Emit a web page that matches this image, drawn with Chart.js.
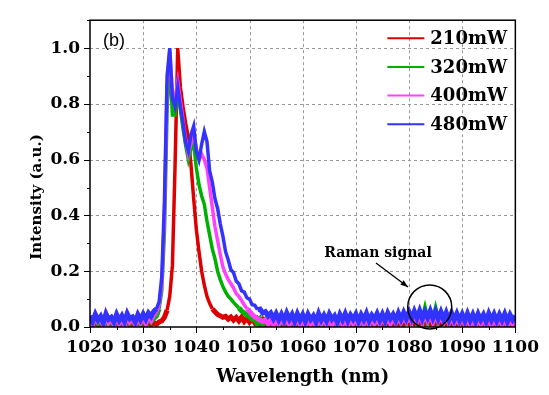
<!DOCTYPE html>
<html>
<head>
<meta charset="utf-8">
<script src="https://cdn.jsdelivr.net/npm/chart.js@4.4.0/dist/chart.umd.min.js"></script>
<style>
  html, body { margin: 0; padding: 0; background: #fff; }
</style>
</head>
<body>
<canvas id="spectrum" width="549" height="395"></canvas>
<script>
const seriesLabels = ["210mW", "320mW", "400mW", "480mW"];
const seriesColors = ["#dd0000", "#00b000", "#ff40ff", "#3333ff"];
const xTicks = [1020, 1030, 1040, 1050, 1060, 1070, 1080, 1090, 1100];
const yTicks = [0, 0.2, 0.4, 0.6, 0.8, 1.0];

// sampling grid of the spectra, 0.5 nm
const wavelength = [];
for (let i = 0; i <= 160; i++) wavelength.push(1020 + i * 0.5);

// intensities, one value per 0.5 nm, rows of 10 nm
const p210 = [
  0.015,0.005,0.018,0.008,0.014,0.004,0.02,0.008,0.016,0.005,0.018,0.006,0.015,0.004,0.02,0.008,0.014,0.005,0.018,0.007,
  0.015,0.006,0.018,0.008,0.016,0.01,0.018,0.022,0.035,0.06,0.11,0.22,0.58,1.0,0.86,0.79,0.73,0.68,0.58,0.46,
  0.35,0.27,0.2,0.15,0.11,0.085,0.065,0.055,0.045,0.04,0.035,0.038,0.028,0.036,0.025,0.034,0.022,0.035,0.02,0.032,
  0.018,0.03,0.015,0.028,0.012,0.025,0.01,0.022,0.008,0.02,0.006,0.018,0.008,0.016,0.005,0.018,0.006,0.016,0.004,0.015,
  0.006,0.016,0.004,0.015,0.007,0.017,0.005,0.014,0.006,0.016,0.004,0.015,0.007,0.016,0.005,0.014,0.006,0.017,0.005,0.015,
  0.006,0.016,0.005,0.017,0.007,0.015,0.006,0.018,0.008,0.017,0.007,0.018,0.009,0.02,0.008,0.019,0.01,0.021,0.01,0.022,
  0.012,0.024,0.013,0.026,0.012,0.028,0.014,0.026,0.012,0.027,0.013,0.024,0.011,0.022,0.01,0.02,0.008,0.018,0.007,0.017,
  0.006,0.016,0.005,0.015,0.006,0.017,0.004,0.015,0.006,0.016,0.005,0.014,0.006,0.016,0.004,0.015,0.006,0.017,0.005,0.015,
  0.008
];
const p320 = [
  0.025,0.01,0.035,0.015,0.03,0.008,0.038,0.012,0.028,0.01,0.036,0.015,0.03,0.006,0.04,0.016,0.028,0.01,0.034,0.012,
  0.03,0.012,0.032,0.02,0.03,0.04,0.065,0.13,0.34,0.78,0.96,0.76,0.76,0.85,0.78,0.71,0.65,0.6,0.64,0.66,
  0.57,0.51,0.47,0.44,0.38,0.33,0.28,0.245,0.2,0.17,0.145,0.126,0.11,0.1,0.088,0.078,0.068,0.058,0.05,0.042,
  0.036,0.028,0.025,0.012,0.028,0.008,0.025,0.012,0.03,0.01,0.027,0.008,0.03,0.012,0.024,0.01,0.028,0.012,0.03,0.01,
  0.028,0.01,0.025,0.012,0.03,0.008,0.026,0.01,0.03,0.014,0.025,0.01,0.028,0.006,0.03,0.012,0.026,0.01,0.03,0.012,
  0.026,0.012,0.03,0.01,0.028,0.014,0.03,0.012,0.033,0.015,0.03,0.014,0.035,0.016,0.034,0.018,0.036,0.018,0.038,0.02,
  0.04,0.022,0.045,0.02,0.042,0.024,0.062,0.022,0.044,0.02,0.06,0.022,0.04,0.018,0.038,0.016,0.035,0.015,0.034,0.014,
  0.03,0.012,0.032,0.01,0.03,0.008,0.03,0.012,0.028,0.01,0.032,0.008,0.03,0.01,0.028,0.012,0.03,0.008,0.029,0.012,
  0.025
];
const p400 = [
  0.03,0.012,0.042,0.02,0.028,0.008,0.045,0.018,0.03,0.01,0.04,0.015,0.035,0.008,0.044,0.02,0.03,0.01,0.04,0.018,
  0.035,0.015,0.04,0.025,0.045,0.05,0.08,0.15,0.4,0.86,0.99,0.84,0.82,0.88,0.81,0.74,0.67,0.62,0.66,0.69,
  0.64,0.6,0.62,0.6,0.57,0.5,0.43,0.36,0.31,0.26,0.215,0.19,0.17,0.155,0.14,0.12,0.11,0.095,0.08,0.065,
  0.056,0.045,0.036,0.03,0.024,0.02,0.025,0.012,0.028,0.01,0.026,0.012,0.03,0.015,0.025,0.01,0.028,0.012,0.03,0.01,
  0.026,0.008,0.03,0.012,0.025,0.006,0.028,0.014,0.03,0.01,0.026,0.008,0.028,0.012,0.03,0.01,0.025,0.008,0.03,0.014,
  0.028,0.01,0.03,0.012,0.026,0.01,0.032,0.014,0.028,0.012,0.03,0.015,0.034,0.014,0.032,0.016,0.036,0.018,0.035,0.02,
  0.04,0.02,0.042,0.022,0.044,0.02,0.045,0.024,0.044,0.02,0.042,0.022,0.04,0.018,0.038,0.016,0.036,0.015,0.034,0.014,
  0.03,0.012,0.032,0.01,0.028,0.008,0.03,0.012,0.029,0.01,0.031,0.008,0.028,0.012,0.03,0.01,0.028,0.008,0.03,0.012,
  0.026
];
const p480 = [
  0.04,0.02,0.045,0.025,0.038,0.015,0.047,0.028,0.035,0.018,0.045,0.024,0.04,0.02,0.048,0.03,0.036,0.018,0.044,0.026,
  0.046,0.028,0.05,0.038,0.056,0.065,0.09,0.18,0.45,0.9,1.0,0.82,0.79,0.86,0.79,0.73,0.66,0.63,0.69,0.72,
  0.63,0.6,0.655,0.7,0.665,0.56,0.52,0.46,0.425,0.37,0.325,0.27,0.24,0.205,0.195,0.165,0.155,0.13,0.125,0.105,
  0.1,0.08,0.078,0.062,0.064,0.05,0.055,0.04,0.05,0.03,0.048,0.026,0.046,0.024,0.05,0.028,0.045,0.02,0.047,0.025,
  0.044,0.02,0.046,0.027,0.04,0.018,0.048,0.025,0.042,0.022,0.047,0.028,0.04,0.018,0.045,0.026,0.048,0.022,0.043,0.028,
  0.046,0.02,0.044,0.026,0.049,0.022,0.042,0.028,0.048,0.024,0.046,0.022,0.05,0.03,0.045,0.024,0.05,0.028,0.052,0.03,
  0.054,0.03,0.056,0.032,0.058,0.03,0.055,0.034,0.058,0.032,0.056,0.03,0.054,0.028,0.052,0.026,0.05,0.026,0.048,0.024,
  0.046,0.022,0.048,0.024,0.045,0.02,0.047,0.026,0.044,0.02,0.048,0.025,0.046,0.022,0.045,0.024,0.047,0.02,0.044,0.026,
  0.04
];
const seriesValues = [p210, p320, p400, p480];

const serif = "'DejaVu Serif', serif";

// dashed grid, frame, tick marks, legend and notes
const decorations = {
  id: "decorations",
  beforeDatasetsDraw(chart) {
    const { ctx, chartArea: a, scales: { x, y } } = chart;
    ctx.save();
    ctx.strokeStyle = "#999";
    ctx.lineWidth = 1;
    ctx.setLineDash([3, 3]);
    xTicks.slice(1, -1).forEach(v => {
      const px = Math.round(x.getPixelForValue(v)) + 0.5;
      ctx.beginPath(); ctx.moveTo(px, a.top); ctx.lineTo(px, a.bottom); ctx.stroke();
    });
    yTicks.slice(1).forEach(v => {
      const py = Math.round(y.getPixelForValue(v)) + 0.5;
      ctx.beginPath(); ctx.moveTo(a.left, py); ctx.lineTo(a.right, py); ctx.stroke();
    });
    ctx.restore();
  },
  afterDatasetsDraw(chart) {
    const { ctx, chartArea: a, scales: { x, y } } = chart;
    ctx.save();
    ctx.strokeStyle = "#000";
    ctx.lineWidth = 1.5;
    ctx.strokeRect(a.left, a.top, a.right - a.left, a.bottom - a.top);

    // tick marks, major and minor, pointing out
    ctx.lineWidth = 1;
    xTicks.forEach((v, i) => {
      const px = Math.round(x.getPixelForValue(v)) + 0.5;
      ctx.beginPath(); ctx.moveTo(px, a.bottom); ctx.lineTo(px, a.bottom + 6); ctx.stroke();
      if (i < xTicks.length - 1) {
        const mx = Math.round(x.getPixelForValue((v + xTicks[i + 1]) / 2)) + 0.5;
        ctx.beginPath(); ctx.moveTo(mx, a.bottom); ctx.lineTo(mx, a.bottom + 3); ctx.stroke();
      }
    });
    yTicks.forEach((v, i) => {
      const py = Math.round(y.getPixelForValue(v)) + 0.5;
      ctx.beginPath(); ctx.moveTo(a.left, py); ctx.lineTo(a.left - 6, py); ctx.stroke();
      const next = i < yTicks.length - 1 ? yTicks[i + 1] : v + 0.2;
      const my = Math.round(y.getPixelForValue((v + next) / 2)) + 0.5;
      ctx.beginPath(); ctx.moveTo(a.left, my); ctx.lineTo(a.left - 3, my); ctx.stroke();
    });

    // y axis title
    ctx.fillStyle = "#000";
    ctx.font = "bold 15px " + serif;
    ctx.textAlign = "center";
    ctx.textBaseline = "middle";
    ctx.save();
    ctx.translate(37, 197);
    ctx.rotate(-Math.PI / 2);
    ctx.fillText("Intensity (a.u.)", 0, 0);
    ctx.restore();

    // legend
    ctx.font = "bold 18px " + serif;
    ctx.textAlign = "left";
    seriesLabels.forEach((label, i) => {
      const ly = a.top + 18 + i * 28.7;
      ctx.strokeStyle = seriesColors[i];
      ctx.lineWidth = 2;
      ctx.beginPath(); ctx.moveTo(a.right - 128, ly); ctx.lineTo(a.right - 91, ly); ctx.stroke();
      ctx.fillText(label, a.right - 85, ly + 1);
    });

    // panel letter
    ctx.font = "18px 'Liberation Sans', sans-serif";
    ctx.fillText("(b)", a.left + 13, a.top + 21);

    // Raman note, arrow and circle
    ctx.font = "bold 14px " + serif;
    ctx.textAlign = "center";
    ctx.fillText("Raman signal", 378, 253);
    ctx.strokeStyle = "#000";
    ctx.lineWidth = 1.3;
    const x0 = 376, y0 = 263, x1 = 408, y1 = 287;
    ctx.beginPath(); ctx.moveTo(x0, y0); ctx.lineTo(x1, y1); ctx.stroke();
    const ang = Math.atan2(y1 - y0, x1 - x0);
    ctx.beginPath();
    ctx.moveTo(x1, y1);
    ctx.lineTo(x1 - 8 * Math.cos(ang - 0.35), y1 - 8 * Math.sin(ang - 0.35));
    ctx.lineTo(x1 - 8 * Math.cos(ang + 0.35), y1 - 8 * Math.sin(ang + 0.35));
    ctx.closePath(); ctx.fill();
    ctx.lineWidth = 1.5;
    ctx.beginPath();
    ctx.arc(x.getPixelForValue(1083.9), y.getPixelForValue(0.072), 22, 0, Math.PI * 2);
    ctx.stroke();
    ctx.restore();
  }
};

// the noisy floor of each spectrum reads as a thick band
const bandWidth = c => Math.max(c.p0.parsed.y, c.p1.parsed.y) < 0.07 ? 5 : 3.5;

new Chart(document.getElementById("spectrum"), {
  type: "line",
  data: {
    datasets: seriesLabels.map((label, i) => ({
      label: label,
      data: wavelength.map((w, k) => ({ x: w, y: seriesValues[i][k] })),
      borderColor: seriesColors[i],
      borderWidth: 3.5,
      segment: { borderWidth: bandWidth },
      pointRadius: 0,
      tension: 0,
      order: seriesLabels.length - i
    }))
  },
  options: {
    responsive: false,
    animation: false,
    layout: { padding: { top: 5, right: 31, left: 0, bottom: 0 } },
    plugins: { legend: { display: false }, tooltip: { enabled: false } },
    scales: {
      x: {
        type: "linear",
        min: 1020,
        max: 1100,
        afterBuildTicks: s => { s.ticks = xTicks.map(v => ({ value: v })); },
        afterFit: s => { s.height = 68; },
        grid: { display: false, drawTicks: false },
        border: { display: false },
        ticks: { padding: 10, color: "#000", font: { family: serif, size: 17, weight: "bold" }, maxRotation: 0,
                 callback: v => String(v) },
        title: { display: true, text: "Wavelength (nm)", color: "#000", padding: { top: 0, bottom: 7 },
                 font: { family: serif, size: 18, weight: "bold" } }
      },
      y: {
        min: 0,
        max: 1.1,
        afterBuildTicks: s => { s.ticks = yTicks.map(v => ({ value: v })); },
        afterFit: s => { s.width = 90; },
        grid: { display: false, drawTicks: false },
        border: { display: false },
        ticks: { padding: 10, color: "#000", font: { family: serif, size: 17, weight: "bold" },
                 callback: v => v.toFixed(1) }
      }
    }
  },
  plugins: [decorations]
});
</script>
</body>
</html>
